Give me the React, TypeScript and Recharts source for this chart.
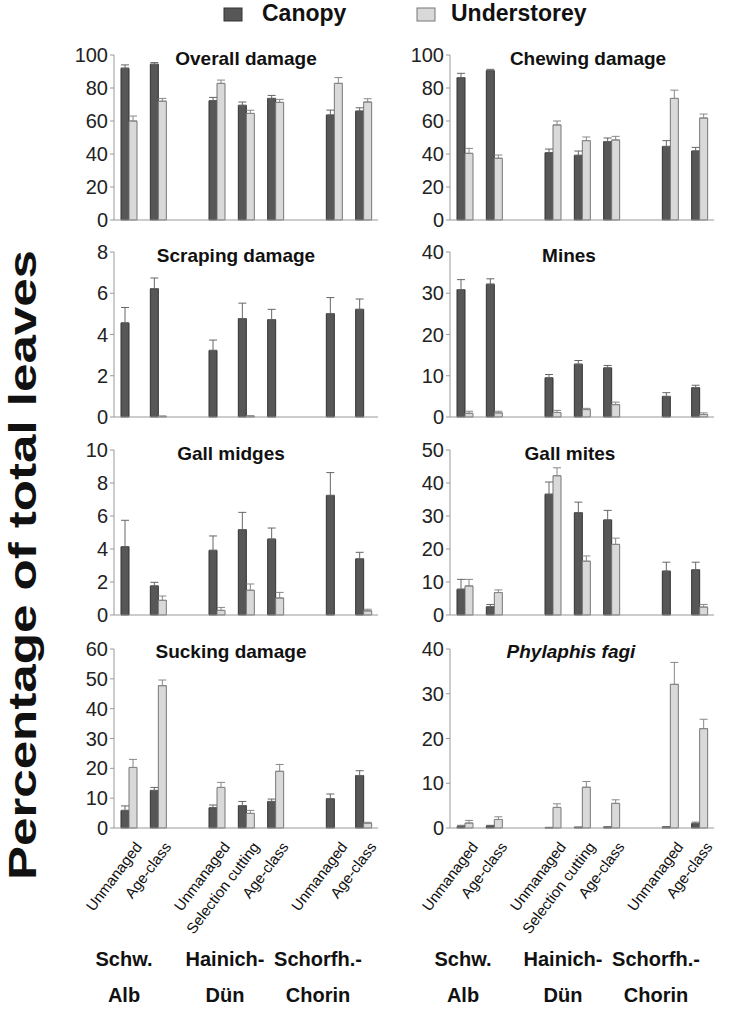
import React from 'react'
import { BarChart, Bar, XAxis, YAxis, ErrorBar } from 'recharts'

const FONT = '"Liberation Sans", Arial, sans-serif'
const CANOPY = '#575757'
const UNDER = '#d9d9d9'

// treatments, '' marks the gap between regions
const categories = ['Unmanaged', 'Age-class', '', 'Unmanaged', 'Selection cutting', 'Age-class', '', 'Unmanaged', 'Age-class']
const regions = [
  ['Schw.', 'Alb'],
  ['Hainich-', 'Dün'],
  ['Schorfh.-', 'Chorin'],
]

const overallCanopy = [92, 94.4, null, 72.3, 69.5, 73.7, null, 63.6, 66]
const overallCanopyErr = [2, 1, null, 2, 2, 1.8, null, 3, 2]
const overallUnder = [60, 72, null, 82.8, 64.6, 71.3, null, 82.8, 71.5]
const overallUnderErr = [3, 1.7, null, 2, 1.9, 1.8, null, 3.5, 2]

const chewingCanopy = [86.3, 90.5, null, 40.8, 39.2, 47.5, null, 44.6, 41.8]
const chewingCanopyErr = [2.6, 0.8, null, 2.2, 2.6, 2.2, null, 3.5, 2.2]
const chewingUnder = [40.4, 37.4, null, 57.6, 48.1, 48.5, null, 73.7, 61.8]
const chewingUnderErr = [3, 2, null, 2.4, 2.2, 2.2, null, 5, 2.4]

const scrapingCanopy = [4.56, 6.22, null, 3.23, 4.77, 4.72, null, 5.01, 5.22]
const scrapingCanopyErr = [0.75, 0.52, null, 0.5, 0.75, 0.5, null, 0.78, 0.5]
const scrapingUnder = [0, 0.03, null, 0, 0.04, 0, null, 0, 0]
const scrapingUnderErr = [null, 0.02, null, null, 0.02, null, null, null, null]

const minesCanopy = [30.9, 32.2, null, 9.5, 12.8, 11.9, null, 5.0, 7.1]
const minesCanopyErr = [2.4, 1.3, null, 0.8, 0.9, 0.6, null, 0.9, 0.6]
const minesUnder = [0.9, 1.0, null, 1.1, 1.8, 3.0, null, 0, 0.6]
const minesUnderErr = [0.5, 0.4, null, 0.5, 0.3, 0.6, null, null, 0.4]

const midgesCanopy = [4.14, 1.76, null, 3.92, 5.17, 4.6, null, 7.25, 3.4]
const midgesCanopyErr = [1.6, 0.22, null, 0.87, 1.05, 0.67, null, 1.38, 0.4]
const midgesUnder = [0, 0.89, null, 0.28, 1.5, 1.03, null, 0, 0.25]
const midgesUnderErr = [null, 0.26, null, 0.18, 0.38, 0.34, null, null, 0.1]

const mitesCanopy = [7.8, 2.5, null, 36.6, 31, 28.8, null, 13.3, 13.7]
const mitesCanopyErr = [3, 0.7, null, 3.7, 3.2, 2.9, null, 2.7, 2.3]
const mitesUnder = [8.8, 6.8, null, 42.2, 16.3, 21.4, null, 0, 2.4]
const mitesUnderErr = [2, 0.8, null, 2.4, 1.6, 1.9, null, null, 0.8]

const suckingCanopy = [5.9, 12.6, null, 6.8, 7.5, 8.9, null, 9.8, 17.6]
const suckingCanopyErr = [1.5, 1, null, 0.9, 1.4, 0.8, null, 1.6, 1.6]
const suckingUnder = [20.3, 47.7, null, 13.6, 4.9, 19, null, 0, 1.6]
const suckingUnderErr = [2.7, 1.9, null, 1.7, 1, 2.3, null, null, 0.3]

const phylaphisCanopy = [0.3, 0.45, null, 0.1, 0.15, 0.2, null, 0.2, 1.0]
const phylaphisCanopyErr = [0.3, 0.15, null, 0.05, 0.05, 0.05, null, 0.1, 0.3]
const phylaphisUnder = [1.1, 1.9, null, 4.6, 9.1, 5.5, null, 32.1, 22.2]
const phylaphisUnderErr = [0.6, 0.6, null, 0.8, 1.3, 0.8, null, 4.9, 2.1]

type Num = number | null

const rowTop = [40, 237, 435, 634]
const rowPlot = [165, 165, 165, 179]
const colLeft = [60, 396]
const CHART_W = 330
const YAXIS_W = 54

function build(can: Num[], canErr: Num[], und: Num[], undErr: Num[]) {
  return categories.map((cat, i) => ({
    cat,
    canopy: can[i],
    canopyErr: canErr[i] == null ? null : [0, canErr[i]],
    under: und[i],
    underErr: undErr[i] == null ? null : [0, undErr[i]],
  }))
}

const panels = [
  { title: 'Overall damage', row: 0, col: 0, max: 100, step: 20, tx: 246, data: build(overallCanopy, overallCanopyErr, overallUnder, overallUnderErr) },
  { title: 'Chewing damage', row: 0, col: 1, max: 100, step: 20, tx: 588, data: build(chewingCanopy, chewingCanopyErr, chewingUnder, chewingUnderErr) },
  { title: 'Scraping damage', row: 1, col: 0, max: 8, step: 2, tx: 236, data: build(scrapingCanopy, scrapingCanopyErr, scrapingUnder, scrapingUnderErr) },
  { title: 'Mines', row: 1, col: 1, max: 40, step: 10, tx: 569, data: build(minesCanopy, minesCanopyErr, minesUnder, minesUnderErr) },
  { title: 'Gall midges', row: 2, col: 0, max: 10, step: 2, tx: 231, data: build(midgesCanopy, midgesCanopyErr, midgesUnder, midgesUnderErr) },
  { title: 'Gall mites', row: 2, col: 1, max: 50, step: 10, tx: 570, data: build(mitesCanopy, mitesCanopyErr, mitesUnder, mitesUnderErr) },
  { title: 'Sucking damage', row: 3, col: 0, max: 60, step: 10, tx: 231, data: build(suckingCanopy, suckingCanopyErr, suckingUnder, suckingUnderErr) },
  { title: 'Phylaphis fagi', row: 3, col: 1, max: 40, step: 10, tx: 571, italic: true, data: build(phylaphisCanopy, phylaphisCanopyErr, phylaphisUnder, phylaphisUnderErr) },
]

const CatTick = (props: any) => {
  const { x, y, payload } = props
  if (!payload || !payload.value) return null
  return (
    <g transform={`translate(${x + 14},${y + 19})`}>
      <text textAnchor="end" transform="rotate(-53)" fontSize={15} fill="#111" fontFamily={FONT}>
        {payload.value}
      </text>
    </g>
  )
}

function Panel({ p }: { p: (typeof panels)[number] }) {
  const last = p.row === 3
  const xH = last ? 110 : 20
  const h = 15 + rowPlot[p.row] + xH
  const ticks: number[] = []
  for (let v = 0; v <= p.max; v += p.step) ticks.push(v)
  return (
    <div style={{ position: 'absolute', left: colLeft[p.col], top: rowTop[p.row] }}>
      <BarChart width={CHART_W} height={h} data={p.data} margin={{ top: 15, right: 12, left: 0, bottom: 0 }} barGap={0} barSize={8}>
        <XAxis
          dataKey="cat"
          height={xH}
          axisLine={{ stroke: '#999' }}
          tickLine={false}
          tickSize={0}
          tickMargin={0}
          interval={0}
          tick={last ? <CatTick /> : false}
        />
        <YAxis
          type="number"
          domain={[0, p.max]}
          ticks={ticks}
          interval={0}
          width={YAXIS_W}
          axisLine={{ stroke: '#999' }}
          tickLine={{ stroke: '#999' }}
          tickSize={4}
          tick={{ fontSize: 20, fill: '#222', fontFamily: FONT }}
        />
        <Bar dataKey="canopy" fill={CANOPY} stroke="#333" strokeWidth={1} isAnimationActive={false}>
          <ErrorBar dataKey="canopyErr" direction="y" width={4} stroke="#666" strokeWidth={1} />
        </Bar>
        <Bar dataKey="under" fill={UNDER} stroke="#777" strokeWidth={1} isAnimationActive={false}>
          <ErrorBar dataKey="underErr" direction="y" width={4} stroke="#888" strokeWidth={1} />
        </Bar>
      </BarChart>
    </div>
  )
}

const titleBase = [65, 262, 460, 658]
const regionX = [
  [124, 225, 318],
  [463, 563, 656],
]

export default function App() {
  return (
    <div style={{ position: 'absolute', left: 0, top: 0, width: 739, height: 1014, background: '#fff', fontFamily: FONT }}>
      {panels.map((p) => (
        <Panel key={p.title} p={p} />
      ))}
      <svg width={739} height={1014} style={{ position: 'absolute', left: 0, top: 0, pointerEvents: 'none' }}>
        {/* legend */}
        <rect x={224} y={8} width={18} height={13} fill={CANOPY} stroke="#333" />
        <text x={262} y={21} fontSize={23} fontWeight="bold" fill="#111" fontFamily={FONT}>Canopy</text>
        <rect x={417} y={8} width={18} height={13} fill={UNDER} stroke="#777" />
        <text x={451} y={21} fontSize={23} fontWeight="bold" fill="#111" fontFamily={FONT}>Understorey</text>

        {panels.map((p) => (
          <text
            key={p.title}
            x={p.tx}
            y={titleBase[p.row]}
            textAnchor="middle"
            fontSize={19}
            fontWeight="bold"
            fontStyle={p.italic ? 'italic' : 'normal'}
            fill="#111"
            fontFamily={FONT}
          >
            {p.title}
          </text>
        ))}

        <text
          transform="translate(36,565) rotate(-90)"
          textAnchor="middle"
          fontSize={38}
          fontWeight="bold"
          fill="#111"
          fontFamily={FONT}
          textLength={630}
          lengthAdjust="spacingAndGlyphs"
        >
          Percentage of total leaves
        </text>

        {regionX.map((xs, c) =>
          xs.map((x, i) => (
            <text key={`${c}-${i}`} x={x} textAnchor="middle" fontSize={20} fontWeight="bold" fill="#111" fontFamily={FONT}>
              <tspan x={x} y={966}>{regions[i][0]}</tspan>
              <tspan x={x} y={1002}>{regions[i][1]}</tspan>
            </text>
          ))
        )}
      </svg>
    </div>
  )
}
